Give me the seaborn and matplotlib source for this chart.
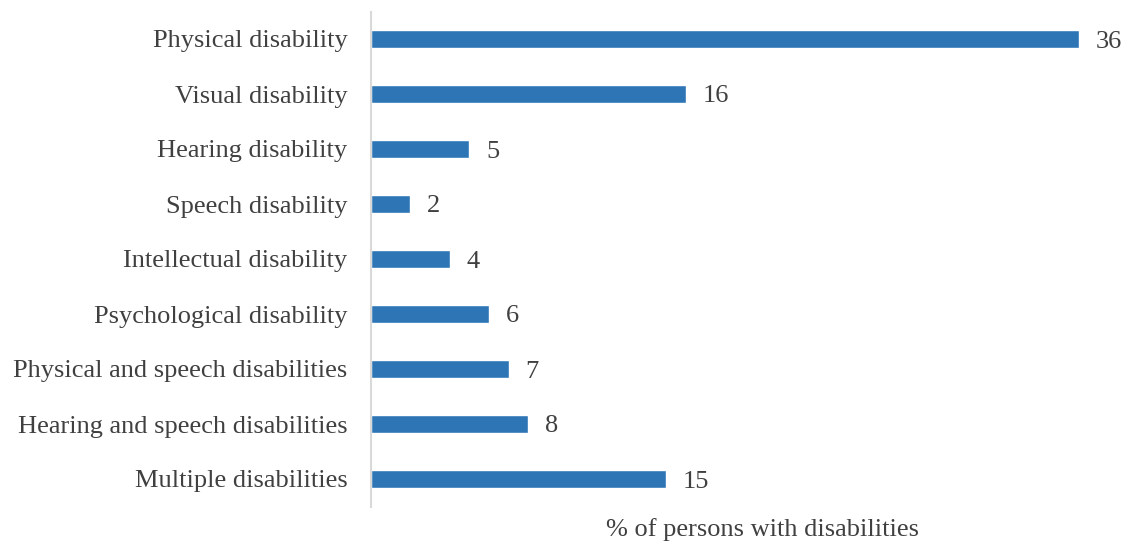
import matplotlib
matplotlib.use("Agg")
import matplotlib.pyplot as plt
import seaborn as sns
import pandas as pd

categories = [
    "Physical disability",
    "Visual disability",
    "Hearing disability",
    "Speech disability",
    "Intellectual disability",
    "Psychological disability",
    "Physical and speech disabilities",
    "Hearing and speech disabilities",
    "Multiple disabilities",
]
values = [36, 16, 5, 2, 4, 6, 7, 8, 15]
x_label = "% of persons with disabilities"

sns.set_theme(style="white")
plt.rcParams["font.family"] = ["Liberation Serif", "DejaVu Serif"]

W, H = 1127, 543
fig = plt.figure(figsize=(W / 100, H / 100), dpi=100)
ax = fig.add_axes([371 / W, 1 - 506.5 / H, (1079 - 371) / W, 495 / H])

df = pd.DataFrame({"category": categories, "value": values})
sns.barplot(data=df, x="value", y="category", orient="h", color="#2E75B6",
            saturation=1, width=0.31, ax=ax)

ax.set_xlim(0, 36)
ax.set_ylim(8.5, -0.5)
ax.set_xlabel("")
ax.set_ylabel("")
ax.set_xticks([])
text_color = "#404040"
fs = 19
ax.tick_params(axis="y", length=0, pad=17, labelsize=fs, labelcolor=text_color)
for lbl in ax.get_yticklabels():
    lbl.set_verticalalignment("center_baseline")
for side in ["top", "right", "bottom"]:
    ax.spines[side].set_visible(False)
ax.spines["left"].set_color("#d9d9d9")
ax.spines["left"].set_linewidth(1.5)

for i, v in enumerate(values):
    ax.text(v + 0.85, i, f"{v}", va="center_baseline", ha="left", fontsize=fs,
            color=text_color, clip_on=False)

fig.text(762 / W, 1 - 527 / H, x_label, ha="center", va="center_baseline",
         fontsize=fs, color=text_color)

fig.savefig("out.png", dpi=100)
